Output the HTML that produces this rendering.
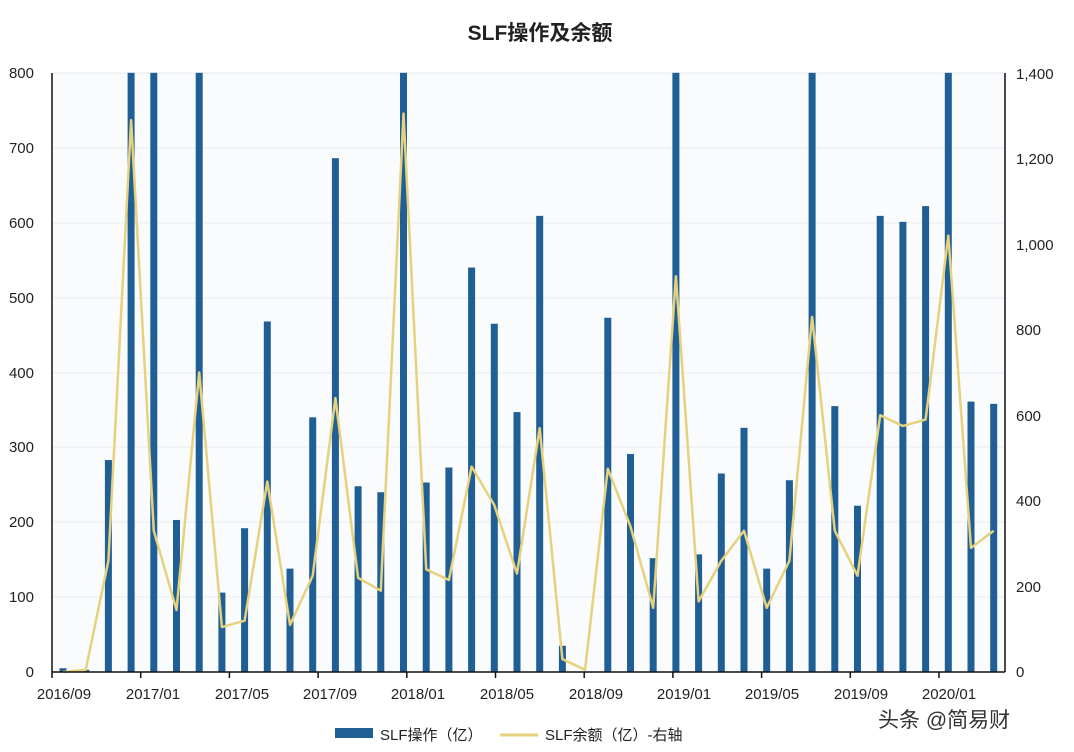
<!DOCTYPE html>
<html><head><meta charset="utf-8"><style>
body{margin:0;background:#fff;}
svg{display:block;font-family:"Liberation Sans","Noto Sans CJK SC",sans-serif;}
</style></head><body>
<svg id="s" width="1074" height="752" viewBox="0 0 1074 752" xmlns="http://www.w3.org/2000/svg">
<rect width="1074" height="752" fill="#fff"/>
<text x="540" y="40" text-anchor="middle" font-size="21" font-weight="bold" fill="#222">SLF操作及余额</text>
<rect x="52" y="73" width="953" height="599" fill="#fafbfd"/>
<g stroke="#e8ebf0" stroke-width="1">
<line x1="52" y1="597" x2="1005" y2="597"/><line x1="52" y1="522" x2="1005" y2="522"/>
<line x1="52" y1="447" x2="1005" y2="447"/><line x1="52" y1="373" x2="1005" y2="373"/>
<line x1="52" y1="298" x2="1005" y2="298"/><line x1="52" y1="223" x2="1005" y2="223"/>
<line x1="52" y1="148" x2="1005" y2="148"/><line x1="52" y1="73" x2="1005" y2="73"/>
</g>
<g id="bars" fill="#1f5f96"></g>
<polyline id="ln" fill="none" stroke="#e6d27c" stroke-width="2.5" stroke-linejoin="round"/>
<g stroke="#111" stroke-width="1.5">
<line x1="52" y1="73" x2="52" y2="672"/><line x1="1005" y1="73" x2="1005" y2="672"/>
<line x1="52" y1="672" x2="1005" y2="672"/>
</g>
<g id="ticks" stroke="#111" stroke-width="1.5"></g>
<g font-size="15" fill="#222" text-anchor="end">
<text x="34" y="677">0</text><text x="34" y="602">100</text><text x="34" y="527">200</text><text x="34" y="452">300</text>
<text x="34" y="378">400</text><text x="34" y="303">500</text><text x="34" y="228">600</text><text x="34" y="153">700</text><text x="34" y="78">800</text>
</g>
<g font-size="15" fill="#222" text-anchor="start">
<text x="1016" y="677">0</text><text x="1016" y="592">200</text><text x="1016" y="506">400</text><text x="1016" y="421">600</text>
<text x="1016" y="335">800</text><text x="1016" y="250">1,000</text><text x="1016" y="164">1,200</text><text x="1016" y="79">1,400</text>
</g>
<g font-size="15" fill="#222" text-anchor="middle">
<text x="64" y="699">2016/09</text><text x="153" y="699">2017/01</text><text x="242" y="699">2017/05</text>
<text x="330" y="699">2017/09</text><text x="418" y="699">2018/01</text><text x="507" y="699">2018/05</text>
<text x="596" y="699">2018/09</text><text x="684" y="699">2019/01</text><text x="772" y="699">2019/05</text>
<text x="861" y="699">2019/09</text><text x="949" y="699">2020/01</text>
</g>
<rect x="335" y="728" width="38" height="10" fill="#1f5f96"/>
<text x="380" y="740" font-size="15" fill="#222">SLF操作（亿）</text>
<line x1="500" y1="735" x2="538" y2="735" stroke="#e6d27c" stroke-width="3"/>
<text x="545" y="740" font-size="15" fill="#222">SLF余额（亿）-右轴</text>
<text x="878" y="727" font-size="21" fill="#333">头条 @简易财</text>
</svg>
<script>
(function(){
var NS="http://www.w3.org/2000/svg";
var b=[5,3,283,900,900,203,900,106,192,468,138,340,686,248,240,900,253,273,540,465,347,609,35,0,473,291,152,900,157,265,326,138,256,900,355,222,609,601,622,900,361,358];
var l=[0,5,260,1290,330,145,700,105,120,445,110,225,640,220,190,1305,240,215,480,390,230,570,30,5,475,340,150,925,165,260,330,150,260,830,330,225,600,575,590,1020,290,330];
var g=document.getElementById('bars'),p=[];
for(var i=0;i<b.length;i++){var x=63+22.7*i;var v=Math.min(b[i],800);var h=v*0.749;
var r=document.createElementNS(NS,'rect');r.setAttribute('x',x-3.5);r.setAttribute('y',672-h);r.setAttribute('width',7);r.setAttribute('height',h);g.appendChild(r);
p.push(x+','+(672-l[i]*599/1400));}
document.getElementById('ln').setAttribute('points',p.join(' '));
var tk=document.getElementById('ticks');
for(var k=0;k<11;k++){var tx=52+88.7*k;var ln=document.createElementNS(NS,'line');ln.setAttribute('x1',tx);ln.setAttribute('x2',tx);ln.setAttribute('y1',672);ln.setAttribute('y2',678);tk.appendChild(ln);}
})();
</script>
</body></html>
